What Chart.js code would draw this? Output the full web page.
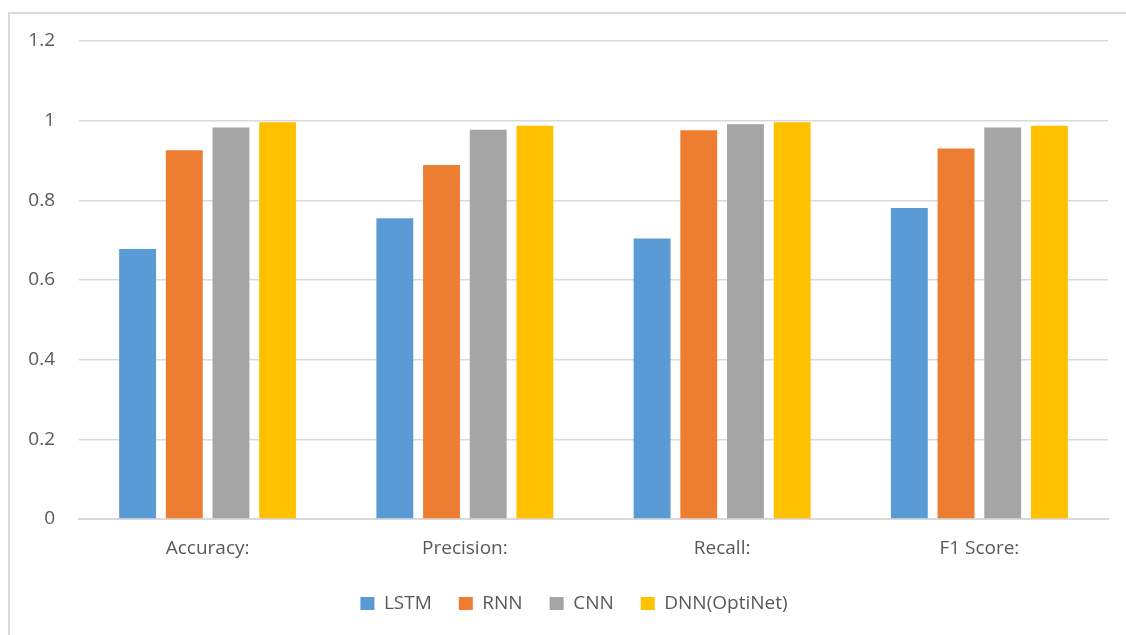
<!DOCTYPE html>
<html>
<head>
<meta charset="utf-8">
<script src="https://cdn.jsdelivr.net/npm/chart.js@4.4.1/dist/chart.umd.min.js"></script>
<style>
  html, body { margin: 0; padding: 0; background: #ffffff; }
  #wrap { position: relative; width: 1126px; height: 635px; overflow: hidden; }
  #frame { position: absolute; left: 8px; top: 12px; width: 1200px; height: 700px;
           border-left: 2px solid #d9d9d9; border-top: 2px solid #d9d9d9; box-sizing: border-box; }
  canvas { position: absolute; left: 0; top: 0; }
</style>
</head>
<body>
<div id="wrap">
  <div id="frame"></div>
  <canvas id="chart" width="1126" height="635"></canvas>
</div>
<script>
// Evaluation metrics per model
const metrics = ['Accuracy:', 'Precision:', 'Recall:', 'F1 Score:'];
const lstm = [0.678, 0.755, 0.704, 0.781];
const rnn = [0.926, 0.889, 0.976, 0.930];
const cnn = [0.983, 0.977, 0.991, 0.983];
const dnnOptiNet = [0.996, 0.987, 0.996, 0.987];
const yTicks = [0, 0.2, 0.4, 0.6, 0.8, 1, 1.2];

const FONT = "'Open Sans', 'Liberation Sans', sans-serif";
const TEXT = '#595959';

const series = [
  { label: 'LSTM', data: lstm, color: '#5B9BD5' },
  { label: 'RNN', data: rnn, color: '#ED7D31' },
  { label: 'CNN', data: cnn, color: '#A5A5A5' },
  { label: 'DNN(OptiNet)', data: dnnOptiNet, color: '#FFC000' }
];

// Nudge the legend row to the right so it sits under the plot centre
const legendShift = {
  id: 'legendShift',
  afterLayout(chart) {
    const lg = chart.legend;
    if (lg) { lg.left += 20; lg.right += 20; }
  }
};

new Chart(document.getElementById('chart'), {
  type: 'bar',
  data: {
    labels: metrics,
    datasets: series.map(s => ({
      label: s.label,
      data: s.data,
      backgroundColor: s.color,
      borderWidth: 0,
      categoryPercentage: 0.726,
      barPercentage: 0.79
    }))
  },
  plugins: [legendShift],
  options: {
    responsive: false,
    animation: false,
    layout: { padding: { top: 41, right: 18, left: 0, bottom: 12 } },
    plugins: {
      tooltip: { enabled: false },
      legend: {
        position: 'bottom',
        labels: {
          color: TEXT,
          font: { family: FONT, size: 19 },
          boxWidth: 14,
          boxHeight: 13,
          padding: 27
        }
      }
    },
    scales: {
      x: {
        grid: { display: false },
        border: { display: true, color: '#d9d9d9', width: 2 },
        ticks: { color: TEXT, font: { family: FONT, size: 19 }, padding: 10 },
        afterFit: s => { s.height = 48; }
      },
      y: {
        min: 0,
        max: 1.2,
        afterBuildTicks: s => { s.ticks = yTicks.map(v => ({ value: v })); },
        grid: { color: '#d9d9d9', lineWidth: 1.5, drawTicks: false },
        border: { display: false },
        ticks: {
          color: TEXT,
          font: { family: FONT, size: 19 },
          padding: 24,
          callback: v => String(v)
        },
        afterFit: s => { s.width = 79; }
      }
    }
  }
});
</script>
</body>
</html>
